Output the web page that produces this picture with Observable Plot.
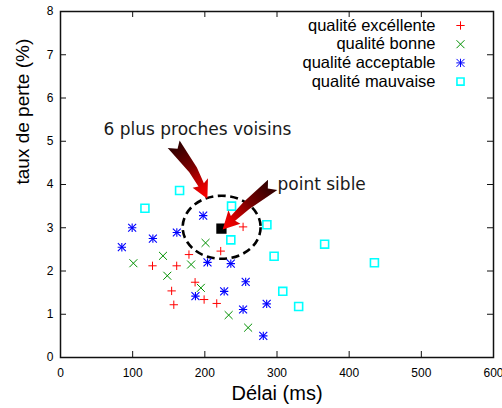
<!DOCTYPE html>
<html>
<head>
<meta charset="utf-8">
<script src="https://cdn.jsdelivr.net/npm/d3@7"></script>
<script src="https://cdn.jsdelivr.net/npm/@observablehq/plot@0.6"></script>
<style>
  html, body { margin: 0; padding: 0; background: #fff; }
  #chart { width: 502px; height: 408px; }
</style>
</head>
<body>
<div id="chart"></div>
<script>
// ---- data ----
const xTicks = [0, 100, 200, 300, 400, 500, 600];
const yTicks = [0, 1, 2, 3, 4, 5, 6, 7, 8];

const excellenteX = [253, 222, 178, 127.5, 161, 186.5, 154, 199, 216.5, 157];
const excellenteY = [3.02, 2.46, 2.38, 2.12, 2.12, 1.74, 1.54, 1.34, 1.25, 1.22];
const bonneX = [201, 142, 101, 181, 148, 194.5, 233, 260];
const bonneY = [2.65, 2.35, 2.18, 2.15, 1.89, 1.61, 0.98, 0.69];
const acceptableX = [197.7, 99.3, 161.2, 128, 85, 203.7, 236, 256.6, 226.8, 187, 285.7, 253, 281];
const acceptableY = [3.28, 3.0, 2.89, 2.75, 2.55, 2.2, 2.17, 1.75, 1.53, 1.42, 1.24, 1.11, 0.5];
const mauvaiseX = [165, 117, 237, 236, 286, 296, 366, 435, 308, 330];
const mauvaiseY = [3.86, 3.45, 3.5, 2.72, 3.07, 2.34, 2.62, 2.19, 1.53, 1.18];

const targetPoint = [{x: 223, y: 2.98}];
// neighbourhood ellipse (data units)
const ellipseCenter = {x: 224, y: 3.0};
const ellipseRadius = {x: 54, y: 0.73};

const legendLabels = ["qualité excéllente", "qualité bonne", "qualité acceptable", "qualité mauvaise"];
const annotationTexts = [
  {label: "6 plus proches voisins", x: 59.6, y: 5.27},
  {label: "point sible", x: 300.7, y: 4.0}
];
const arrows = [
  {tail: [157.5, 4.92], tip: [204.2, 3.66], bend: -3},
  {tail: [294.7, 3.98], tip: [225.4, 2.95], bend: 2}
];

const toPts = (xs, ys) => xs.map((x, i) => ({x, y: ys[i]}));
const excellente = toPts(excellenteX, excellenteY);
const bonne = toPts(bonneX, bonneY);
const acceptable = toPts(acceptableX, acceptableY);
const mauvaise = toPts(mauvaiseX, mauvaiseY);

// ---- layout ----
const W = 502, H = 408;
const mL = 60, mR = 9, mT = 11, mB = 51;
const innerW = W - mL - mR, innerH = H - mT - mB;
const tickLen = 6;
const axisColor = "#111";

const RED = "#ff0000", GREEN = "#009000", BLUE = "#0000ff", CYAN = "#00ffff";
const R_PLUS = 2.8, R_TIMES = 3.7, R_SQUARE = 4.5;

const NS = "http://www.w3.org/2000/svg";
function el(name, attrs) {
  const e = document.createElementNS(NS, name);
  for (const k in attrs) e.setAttribute(k, attrs[k]);
  return e;
}

// ellipse render mark
function ellipseMark(index, scales) {
  const g = el("g", {});
  const cx = scales.x(ellipseCenter.x), cy = scales.y(ellipseCenter.y);
  const rx = Math.abs(scales.x(ellipseCenter.x + ellipseRadius.x) - cx);
  const ry = Math.abs(scales.y(ellipseCenter.y + ellipseRadius.y) - cy);
  g.appendChild(el("ellipse", {cx, cy, rx, ry, fill: "none", stroke: "#000",
    "stroke-width": 2.6, "stroke-dasharray": "8 4.5"}));
  return g;
}

// arrows render mark
function arrowMark(index, scales) {
  const g = el("g", {});
  const defs = el("defs", {});
  g.appendChild(defs);
  arrows.forEach((a, k) => {
    const T = [scales.x(a.tail[0]), scales.y(a.tail[1])];
    const Hp = [scales.x(a.tip[0]), scales.y(a.tip[1])];
    const dx = Hp[0] - T[0], dy = Hp[1] - T[1], L = Math.hypot(dx, dy);
    const u = [dx / L, dy / L], n = [-u[1], u[0]];
    const P = (s, w) => {
      const ww = w + a.bend * Math.sin(Math.PI * Math.min(s, L) / L);
      return [T[0] + u[0] * s + n[0] * ww, T[1] + u[1] * s + n[1] * ww];
    };
    const local = [[0, 7], [L * 0.5, 4.5], [L - 15, 3.2], [L - 17, 9], [L, 0],
                   [L - 17, -9], [L - 15, -3.2], [L * 0.5, -4.5], [0, -7], [6, 0]];
    const pts = local.map(([s, w]) => P(s, w));
    const id = "arrowGrad" + k;
    const grad = el("linearGradient", {id, gradientUnits: "userSpaceOnUse",
      x1: T[0], y1: T[1], x2: Hp[0], y2: Hp[1]});
    grad.appendChild(el("stop", {offset: "0", "stop-color": "#2a0000"}));
    grad.appendChild(el("stop", {offset: "0.45", "stop-color": "#7a0000"}));
    grad.appendChild(el("stop", {offset: "0.8", "stop-color": "#e00000"}));
    grad.appendChild(el("stop", {offset: "1", "stop-color": "#ff0000"}));
    defs.appendChild(grad);
    g.appendChild(el("path", {d: "M" + pts.map(p => p[0].toFixed(2) + "," + p[1].toFixed(2)).join("L") + "Z",
      fill: `url(#${id})`}));
  });
  return g;
}

const legendMarkers = [
  [{symbol: "plus", stroke: RED, r: R_PLUS}],
  [{symbol: "times", stroke: GREEN, r: R_TIMES}],
  [{symbol: "plus", stroke: BLUE, r: R_PLUS}, {symbol: "times", stroke: BLUE, r: R_TIMES}],
  [{symbol: "square", stroke: CYAN, sw: 1.6, r: 4}]
];

const legendMarks = [];
legendLabels.forEach((lab, i) => {
  const dy = 14 + i * 18.7;
  legendMarks.push(Plot.text([lab], {frameAnchor: "top-right", lineAnchor: "middle", text: d => d, textAnchor: "end",
    dx: -58, dy, fontSize: 16.5, fill: "#000", fontFamily: "Liberation Sans, Arial, sans-serif"}));
  legendMarkers[i].forEach(m => {
    legendMarks.push(Plot.dot([lab], {frameAnchor: "top-right", dx: -33, dy, symbol: m.symbol,
      r: m.r, stroke: m.stroke, fill: "none", strokeWidth: m.sw || 1}));
  });
});

const chart = Plot.plot({
  width: W, height: H,
  marginLeft: mL, marginRight: mR, marginTop: mT, marginBottom: mB,
  style: {fontFamily: "Liberation Sans, Arial, sans-serif", fontSize: "12px", color: "#000", background: "#fff"},
  x: {domain: [0, 600]},
  y: {domain: [0, 8]},
  marks: [
    Plot.axisX(xTicks, {tickSize: 0, tickPadding: 11, label: null, fontSize: 12}),
    Plot.axisY(yTicks, {tickSize: 0, tickPadding: 7, label: null, fontSize: 12}),
    Plot.tickX(xTicks, {x: d => d, insetTop: innerH - tickLen, stroke: axisColor, strokeWidth: 1}),
    Plot.tickX(xTicks, {x: d => d, insetBottom: innerH - tickLen, stroke: axisColor, strokeWidth: 1}),
    Plot.tickY(yTicks, {y: d => d, insetRight: innerW - tickLen, stroke: axisColor, strokeWidth: 1}),
    Plot.tickY(yTicks, {y: d => d, insetLeft: innerW - tickLen, stroke: axisColor, strokeWidth: 1}),
    Plot.frame({stroke: axisColor, strokeWidth: 1.5}),
    Plot.text(["Délai (ms)"], {frameAnchor: "bottom", lineAnchor: "middle", text: d => d, dy: 36, fontSize: 20, fill: "#000"}),
    Plot.text(["taux de perte (%)"], {frameAnchor: "left", lineAnchor: "middle", text: d => d, dx: -38, rotate: -90, fontSize: 19, fill: "#000"}),
    ellipseMark,
    Plot.dot(excellente, {x: "x", y: "y", symbol: "plus", r: R_PLUS, stroke: RED, strokeWidth: 1}),
    Plot.dot(bonne, {x: "x", y: "y", symbol: "times", r: R_TIMES, stroke: GREEN, strokeWidth: 1}),
    Plot.dot(acceptable, {x: "x", y: "y", symbol: "plus", r: R_PLUS, stroke: BLUE, strokeWidth: 1.1}),
    Plot.dot(acceptable, {x: "x", y: "y", symbol: "times", r: R_TIMES, stroke: BLUE, strokeWidth: 1.1}),
    Plot.dot(mauvaise, {x: "x", y: "y", symbol: "square", r: R_SQUARE, stroke: CYAN, fill: "none", strokeWidth: 1.6}),
    Plot.dot(targetPoint, {x: "x", y: "y", symbol: "square", r: 5.8, fill: "#000", stroke: "none"}),
    arrowMark,
    Plot.text(annotationTexts, {x: "x", y: "y", text: "label", textAnchor: "start", lineAnchor: "middle", fontSize: 17,
      fill: "#1a1a1a", fontFamily: "DejaVu Sans, sans-serif"}),
    ...legendMarks
  ]
});
document.getElementById("chart").appendChild(chart);
</script>
</body>
</html>
